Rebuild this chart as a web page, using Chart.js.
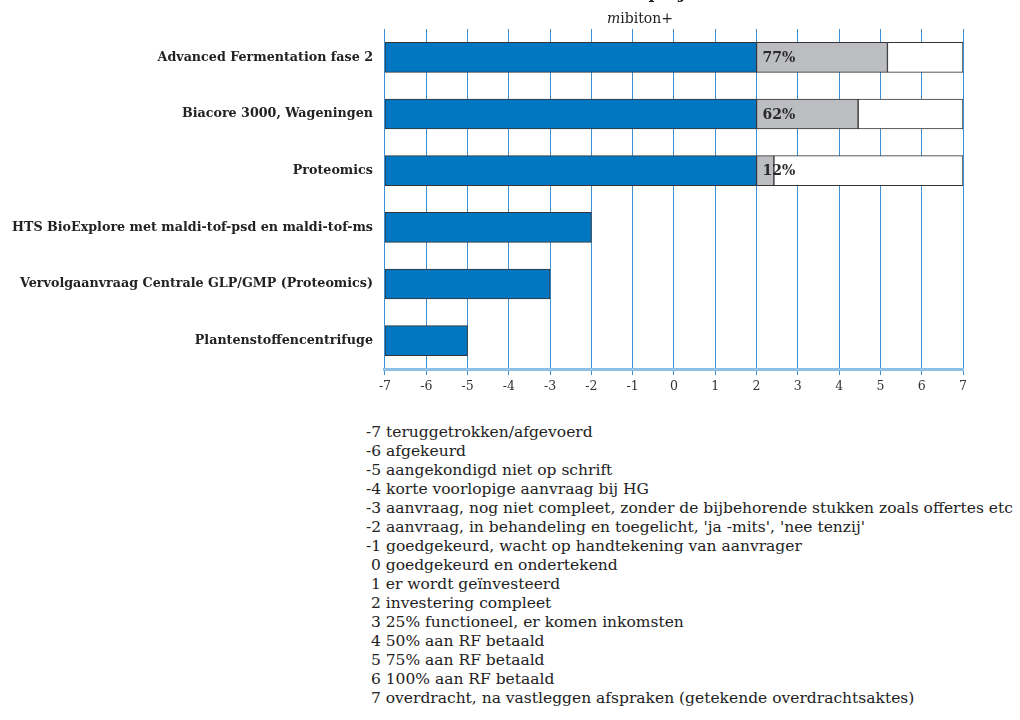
<!DOCTYPE html>
<html>
<head>
<meta charset="utf-8">
<script src="https://cdn.jsdelivr.net/npm/chart.js@4.4.1/dist/chart.umd.min.js"></script>
<style>
    body { margin: 0; background: #fff; width: 1020px; height: 720px; overflow: hidden; position: relative; font-family: "DejaVu Serif", serif; color: #222; }
    #wrap { position: absolute; left: 0; top: 0; width: 1020px; height: 405px; }
    #title1 { position: absolute; top: -17px; left: 340px; width: 600px; text-align: center; font-weight: bold; font-size: 16px; }
    #title2 { position: absolute; top: 10px; left: 340px; width: 600px; text-align: center; font-size: 14px; }
    #legend { position: absolute; left: 366px; top: 423px; font-size: 15.5px; line-height: 19px; white-space: pre; }
</style>
</head>
<body>
<div id="wrap"><canvas id="statusChart"></canvas></div>
<div id="title1">Stand van zaken projecten 2005</div>
<div id="title2"><i>m</i>ibiton+</div>
<div id="legend"></div>

<script>
// projects and their status on the -7..7 scale
const projects = [
    'Advanced Fermentation fase 2',
    'Biacore 3000, Wageningen',
    'Proteomics',
    'HTS BioExplore met maldi-tof-psd en maldi-tof-ms',
    'Vervolgaanvraag Centrale GLP/GMP (Proteomics)',
    'Plantenstoffencentrifuge'
];
const stage = [2, 2, 2, -2, -3, -5];
// end of the grey "progress" part (only for invested projects)
const progressEnd = [5.17, 4.46, 2.42, null, null, null];
const progressPct = ['77%', '62%', '12%', '', '', ''];

const scaleMin = -7;
const scaleMax = 7;

const stageLabels = [
    '-7 teruggetrokken/afgevoerd',
    '-6 afgekeurd',
    '-5 aangekondigd niet op schrift',
    '-4 korte voorlopige aanvraag bij HG',
    '-3 aanvraag, nog niet compleet, zonder de bijbehorende stukken zoals offertes etc',
    "-2 aanvraag, in behandeling en toegelicht, 'ja -mits', 'nee tenzij'",
    '-1 goedgekeurd, wacht op handtekening van aanvrager',
    ' 0 goedgekeurd en ondertekend',
    ' 1 er wordt geïnvesteerd',
    ' 2 investering compleet',
    ' 3 25% functioneel, er komen inkomsten',
    ' 4 50% aan RF betaald',
    ' 5 75% aan RF betaald',
    ' 6 100% aan RF betaald',
    ' 7 overdracht, na vastleggen afspraken (getekende overdrachtsaktes)'
];

document.getElementById('legend').textContent = stageLabels.join('\n');

const blueBars = stage.map(s => [scaleMin, s]);
const greyBars = progressEnd.map((e, i) => e === null ? null : [stage[i], e]);
const restBars = progressEnd.map(e => e === null ? null : [e, scaleMax]);

// draws the percentage at the start of the grey part
const pctLabels = {
    id: 'pctLabels',
    afterDatasetsDraw(chart) {
        const ctx = chart.ctx;
        const meta = chart.getDatasetMeta(1);
        ctx.save();
        ctx.font = 'bold 14px "DejaVu Serif"';
        ctx.fillStyle = '#2a2a2a';
        ctx.textBaseline = 'middle';
        ctx.textAlign = 'left';
        meta.data.forEach((bar, i) => {
            if (!progressPct[i]) return;
            const x = chart.scales.x.getPixelForValue(stage[i]);
            ctx.fillText(progressPct[i], x + 6, bar.y + 1);
        });
        ctx.restore();
    }
};

const ctx = document.getElementById('statusChart').getContext('2d');
new Chart(ctx, {
    type: 'bar',
    data: {
        labels: projects,
        datasets: [
            { label: 'status', data: blueBars, backgroundColor: '#0077c0' },
            { label: 'voortgang', data: greyBars, backgroundColor: '#bcbdc0' },
            { label: 'rest', data: restBars, backgroundColor: '#ffffff' }
        ]
    },
    options: {
        indexAxis: 'y',
        responsive: true,
        maintainAspectRatio: false,
        animation: false,
        layout: { padding: { left: 8, right: 57, top: 29, bottom: 7 } },
        datasets: {
            bar: {
                grouped: false,
                barThickness: 30,
                borderWidth: 1,
                borderColor: '#333333',
                borderSkipped: false
            }
        },
        plugins: {
            legend: { display: false },
            tooltip: { enabled: false }
        },
        scales: {
            x: {
                min: scaleMin,
                max: scaleMax,
                ticks: {
                    stepSize: 1,
                    color: '#333',
                    padding: 4,
                    font: { family: 'DejaVu Serif', size: 12.5 }
                },
                grid: { color: '#3d8fd1', lineWidth: 1, tickLength: 6 },
                border: { color: '#8cc0e6', width: 3 }
            },
            y: {
                grid: { display: false },
                border: { display: false },
                ticks: {
                    color: '#222',
                    padding: 4,
                    font: { family: 'DejaVu Serif', size: 12.7, weight: 'bold' }
                }
            }
        }
    },
    plugins: [pctLabels]
});
</script>
</body>
</html>
